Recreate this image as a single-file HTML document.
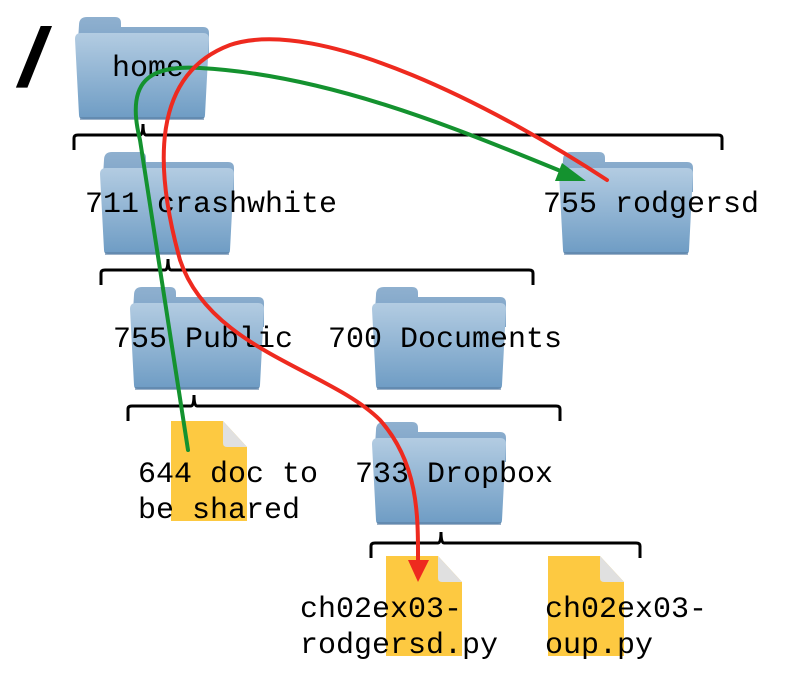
<!DOCTYPE html>
<html><head><meta charset="utf-8"><style>
html,body{margin:0;padding:0;background:#fff}
svg{display:block}
text{font-family:"Liberation Mono","DejaVu Sans Mono",monospace;font-size:30px;fill:#000}
</style></head><body>
<svg width="785" height="679" viewBox="0 0 785 679" xmlns="http://www.w3.org/2000/svg">
<defs>
<linearGradient id="fg" x1="0" y1="0" x2="0" y2="1">
<stop offset="0" stop-color="#b3cce2"/><stop offset="1" stop-color="#6e9cc4"/></linearGradient>
<linearGradient id="tg" x1="0" y1="0" x2="0" y2="1">
<stop offset="0" stop-color="#8fb0cf"/><stop offset="1" stop-color="#7aa1c6"/></linearGradient>
<g id="folder">
<path d="M4,8 Q4,0 12,0 L40,0 Q46,0 46,6 L46,10 L128,10 Q134,10 134,16 L134,40 L2,40 Z" fill="url(#tg)"/>
<path d="M0,22 Q0,16 6,16 L128,16 Q134,16 134,22 L130,98 Q130,102 126,102 L8,102 Q4,102 4,98 Z" fill="url(#fg)"/>
<rect x="5" y="100" width="124" height="3" fill="#5b7fa3" opacity="0.6"/>
</g>
<g id="doc">
<path d="M0,0 L52,0 L76,26 L76,100 L0,100 Z" fill="#fdc941"/>
<path d="M52,0 L52,22 Q52,26 56,26 L76,26 Z" fill="#e0e0e0"/>
</g>
</defs>

<text x="20" y="85" transform="skewX(-12) translate(15,0)" style="font-size:80px;font-family:'Liberation Sans',sans-serif;font-weight:bold;stroke:#000;stroke-width:2">/</text>

<use href="#folder" x="75" y="17"/>
<use href="#folder" x="100" y="152"/>
<use href="#folder" x="559" y="152"/>
<use href="#folder" x="130" y="287"/>
<use href="#folder" x="372" y="287"/>
<use href="#folder" x="372" y="422"/>
<use href="#doc" x="171" y="421"/>
<use href="#doc" x="386" y="556"/>
<use href="#doc" x="548" y="556"/>

<g fill="none" stroke="#000" stroke-width="3">
<path d="M74,150 L74,138 Q74,135 78,135 L140,135 Q143,135 143,124 Q143,135 146,135 L718,135 Q722,135 722,138 L722,150"/>
<path d="M101,285 L101,273 Q101,270 105,270 L165,270 Q168,270 168,259 Q168,270 171,270 L529,270 Q533,270 533,273 L533,285"/>
<path d="M128,421 L128,409 Q128,406 132,406 L191,406 Q194,406 194,395 Q194,406 197,406 L556,406 Q560,406 560,409 L560,421"/>
<path d="M371,558 L371,546 Q371,543 375,543 L438,543 Q441,543 441,532 Q441,543 444,543 L636,543 Q640,543 640,546 L640,558"/>
</g>

<text x="112" y="76">home</text>
<text x="85" y="212">711 crashwhite</text>
<text x="543" y="212">755 rodgersd</text>
<text x="113" y="347">755 Public</text>
<text x="328" y="347">700 Documents</text>
<text x="138" y="482">644 doc to</text>
<text x="138" y="518">be shared</text>
<text x="355" y="482">733 Dropbox</text>
<text x="300" y="617">ch02ex03-</text>
<text x="300" y="653">rodgersd.py</text>
<text x="545" y="617">ch02ex03-</text>
<text x="545" y="653">oup.py</text>

<g fill="none" stroke-width="4" stroke-linecap="round">
<path d="M188,450 L140,140 C125,80 150,65 200,68 C330,75 460,130 568,174" stroke="#14922f"/>
<path d="M607,180 C500,110 320,15 230,45 C150,75 155,170 180,260 C210,350 330,370 380,420 C420,465 418,520 418,565" stroke="#ee2a1f"/>
</g>
<polygon points="586,181 562,163 555,181" fill="#14922f"/>
<polygon points="418,582 408,560 429,560" fill="#ee2a1f"/>
</svg>
</body></html>
